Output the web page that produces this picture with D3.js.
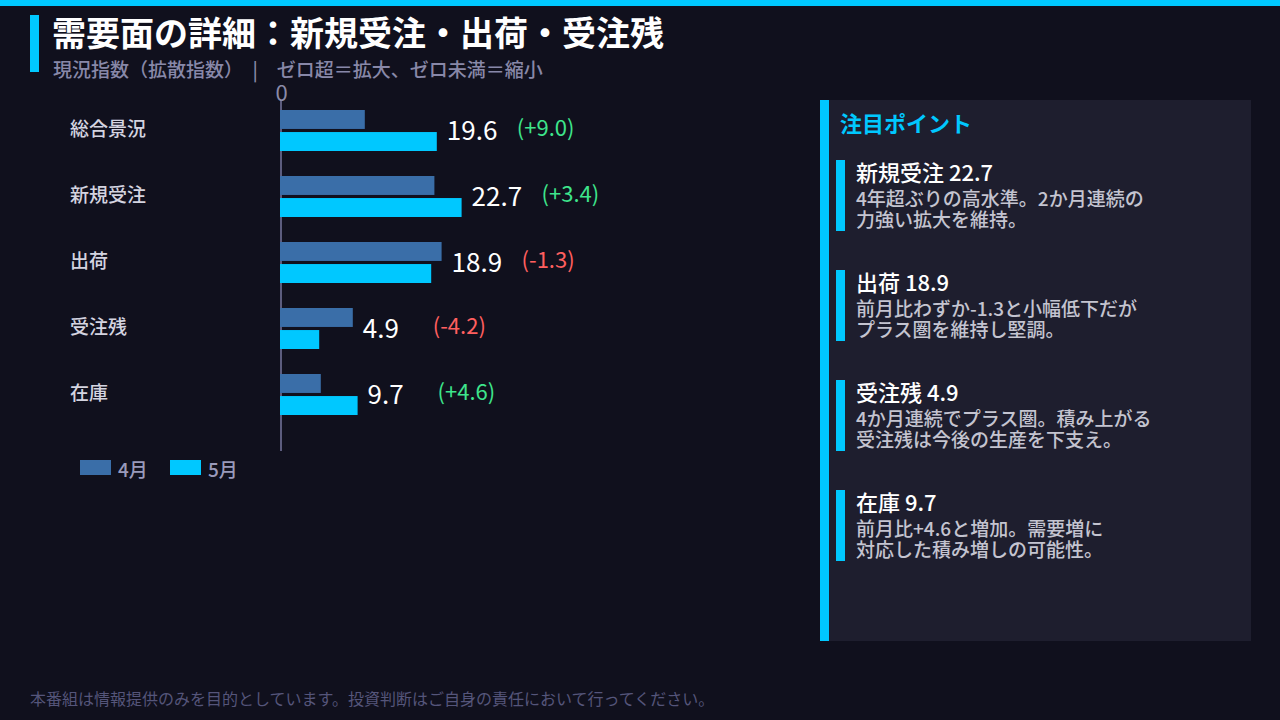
<!DOCTYPE html>
<html lang="ja">
<head>
<meta charset="utf-8">
<script src="https://cdn.jsdelivr.net/npm/d3@7"></script>
<style>
  html, body { margin: 0; padding: 0; background: #10101d; }
  svg { display: block; font-family: "Noto Sans CJK JP", "Noto Sans", sans-serif; }
</style>
</head>
<body>
<svg id="chart"></svg>
<script>
// カテゴリと値
const categories = ["総合景況", "新規受注", "出荷", "受注残", "在庫"];
const months = ["4月", "5月"];
const aprilValues = [10.6, 19.3, 20.2, 9.1, 5.1];
const mayValues = [19.6, 22.7, 18.9, 4.9, 9.7];
const changes = [9.0, 3.4, -1.3, -4.2, 4.6];

// 注目ポイント
const pointTitles = ["新規受注 22.7", "出荷 18.9", "受注残 4.9", "在庫 9.7"];
const pointLines = [
    ["4年超ぶりの高水準。2か月連続の", "力強い拡大を維持。"],
    ["前月比わずか-1.3と小幅低下だが", "プラス圏を維持し堅調。"],
    ["4か月連続でプラス圏。積み上がる", "受注残は今後の生産を下支え。"],
    ["前月比+4.6と増加。需要増に", "対応した積み増しの可能性。"]
];

const width = 1280, height = 720;
const colors = { "4月": "#3a6ea8", "5月": "#00c8ff" };

const svg = d3.select("#chart")
    .attr("width", width)
    .attr("height", height);

svg.append("rect").attr("width", width).attr("height", height).attr("fill", "#10101d");

// 上部のライン
svg.append("rect").attr("width", width).attr("height", 6).attr("fill", "#00c8ff");

// タイトル
svg.append("rect").attr("x", 30).attr("y", 15).attr("width", 9).attr("height", 57).attr("fill", "#00c8ff");
svg.append("text")
    .attr("x", 52).attr("y", 46)
    .attr("font-size", "34px").attr("font-weight", 700)
    .attr("fill", "#ffffff")
    .text("需要面の詳細：新規受注・出荷・受注残");
svg.append("text")
    .attr("x", 53).attr("y", 77)
    .attr("font-size", "19px").attr("font-weight", 500)
    .attr("fill", "#8888a8")
    .text("現況指数（拡散指数）　|　ゼロ超＝拡大、ゼロ未満＝縮小");

// スケール
const x = d3.scaleLinear().domain([0, 30]).range([280, 520]);
const y = d3.scaleBand().domain(categories).range([97.5, 427.5]);
const y1 = d3.scaleBand().domain(months).range([-20.5, 20.5]).paddingInner(0.14);

const rows = categories.map((c, i) => ({
    cat: c,
    values: [{ m: "4月", v: aprilValues[i] }, { m: "5月", v: mayValues[i] }],
    may: mayValues[i],
    top: Math.max(aprilValues[i], mayValues[i]),
    change: changes[i]
}));

const chart = svg.append("g");

// ゼロ軸
chart.append("line")
    .attr("x1", x(0) + 1).attr("x2", x(0) + 1)
    .attr("y1", 100).attr("y2", 451)
    .attr("stroke", "#5c5c7e").attr("stroke-width", 2);

const xaxis = chart.append("g")
    .attr("transform", "translate(1, 101)")
    .call(d3.axisTop(x).tickValues([0]).tickSize(0).tickPadding(0));
xaxis.select(".domain").remove();
xaxis.selectAll("text")
    .attr("font-size", "22px")
    .attr("font-family", "Noto Sans CJK JP")
    .attr("fill", "#8a8aa8")
    .attr("dy", 0);

const groups = chart.selectAll("g.row")
    .data(rows)
    .enter().append("g")
    .attr("class", "row")
    .attr("transform", d => `translate(0, ${y(d.cat) + y.bandwidth() / 2})`);

groups.selectAll("rect")
    .data(d => d.values)
    .enter().append("rect")
    .attr("x", x(0))
    .attr("y", d => y1(d.m))
    .attr("width", d => x(d.v) - x(0))
    .attr("height", y1.bandwidth())
    .attr("fill", d => colors[d.m]);

// カテゴリラベル
groups.append("text")
    .attr("x", 70).attr("y", 5)
    .attr("font-size", "19px").attr("font-weight", 500)
    .attr("fill", "#d4d4e0")
    .text(d => d.cat);

// 値ラベル
groups.append("text")
    .attr("x", d => x(d.top) + 10).attr("y", 9)
    .attr("font-size", "26px")
    .attr("fill", "#ffffff")
    .text(d => d.may.toFixed(1));

groups.append("text")
    .attr("x", d => x(d.top) + 80).attr("y", 5)
    .attr("font-size", "22px")
    .attr("fill", d => d.change >= 0 ? "#3ee58c" : "#ff5f5f")
    .text(d => `(${d.change >= 0 ? "+" : ""}${d.change.toFixed(1)})`);

// 凡例
const legend = svg.append("g").attr("transform", "translate(80, 460)");
const legendItem = legend.selectAll("g")
    .data(months)
    .enter().append("g")
    .attr("transform", (d, i) => `translate(${i * 90}, 0)`);
legendItem.append("rect")
    .attr("width", 31).attr("height", 15)
    .attr("fill", d => colors[d]);
legendItem.append("text")
    .attr("x", 38).attr("y", 17)
    .attr("font-size", "19px").attr("font-weight", 500)
    .attr("fill", "#9a9abb")
    .text(d => d);

// 注目ポイント パネル
const panel = svg.append("g").attr("transform", "translate(820, 100)");
panel.append("rect").attr("width", 431).attr("height", 541).attr("fill", "#1e1e2e");
panel.append("rect").attr("width", 9).attr("height", 541).attr("fill", "#00c8ff");
panel.append("text")
    .attr("x", 20).attr("y", 32)
    .attr("font-size", "22px").attr("font-weight", 700)
    .attr("fill", "#00c8ff")
    .text("注目ポイント");

const items = panel.selectAll("g.point")
    .data(pointTitles.map((t, i) => ({ title: t, lines: pointLines[i] })))
    .enter().append("g")
    .attr("class", "point")
    .attr("transform", (d, i) => `translate(16, ${60 + i * 110})`);
items.append("rect").attr("width", 9).attr("height", 71).attr("fill", "#00c8ff");
items.append("text")
    .attr("x", 20).attr("y", 21)
    .attr("font-size", "22px").attr("font-weight", 500)
    .attr("fill", "#ffffff")
    .text(d => d.title);
items.selectAll("text.line")
    .data(d => d.lines)
    .enter().append("text")
    .attr("class", "line")
    .attr("x", 20).attr("y", (d, i) => 46 + i * 21)
    .attr("font-size", "19px").attr("font-weight", 500)
    .attr("fill", "#c4c4d0")
    .text(d => d);

// フッター
svg.append("text")
    .attr("x", 30).attr("y", 705)
    .attr("font-size", "16px")
    .attr("fill", "#55557a")
    .text("本番組は情報提供のみを目的としています。投資判断はご自身の責任において行ってください。");
</script>
</body>
</html>
